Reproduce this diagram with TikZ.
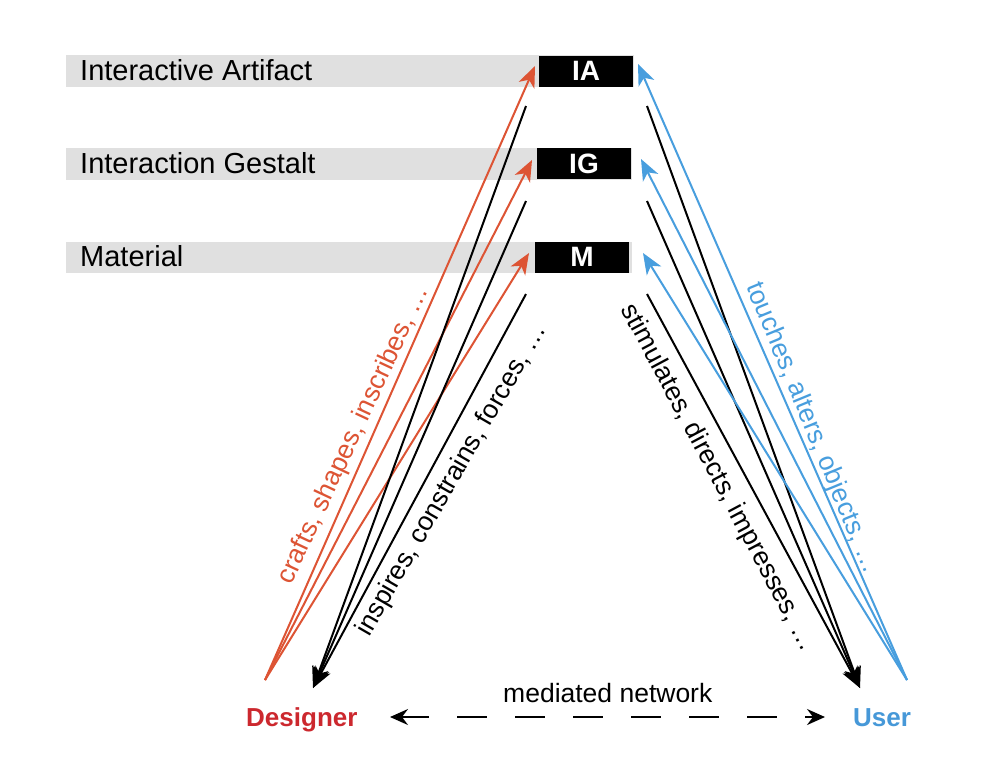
\documentclass[tikz,border=0pt]{standalone}
\usepackage{fontspec}
\setmainfont{Liberation Sans}
\usetikzlibrary{arrows.meta}
\definecolor{barGray}{RGB}{224,224,224}
\definecolor{arrowRed}{RGB}{221,84,52}
\definecolor{textRed}{RGB}{204,40,46}
\definecolor{arrowBlue}{RGB}{72,158,222}
\definecolor{textBlue}{RGB}{70,152,216}
\tikzset{
  bar/.style={fill=barGray, draw=none},
  boxnode/.style={fill=black, text=white, minimum width=94pt, minimum height=31pt, inner sep=0pt,
    font=\fontsize{28}{32}\selectfont\bfseries},
  barlabel/.style={anchor=base west, inner sep=0pt, font=\fontsize{29}{34}\selectfont},
  verb/.style={inner sep=0pt, font=\fontsize{26.5}{30}\selectfont},
  actor/.style={anchor=base west, inner sep=0pt, font=\fontsize{26}{30}\selectfont\bfseries},
  tipstyle/.style={-{Stealth[length=21pt,width=17pt,inset=6pt]}},
  redarrow/.style={tipstyle, draw=arrowRed, line width=2pt},
  bluearrow/.style={tipstyle, draw=arrowBlue, line width=2pt},
  blackarrow/.style={tipstyle, draw=black, line width=2pt},
  netarrow/.style={{Stealth[length=18pt,width=16pt,inset=6pt]}-{Stealth[length=18pt,width=16pt,inset=6pt]},
    line width=2pt, dash pattern=on 30pt off 28pt, dash phase=2pt}
}
\begin{document}
\begin{tikzpicture}[x=1pt,y=-1pt]
\useasboundingbox[fill=white] (0,0) rectangle (1000,769);
% gray bars
\fill[bar] (66,55) rectangle (634,87);
\fill[bar] (66,148) rectangle (632,180);
\fill[bar] (66,242) rectangle (632,273);
\node[barlabel] (lIA) at (80,80) {Interactive Artifact};
\node[barlabel] (lIG) at (80,173) {Interaction Gestalt};
\node[barlabel] (lM) at (80,266) {Material};
% black boxes
\node[boxnode] (IA) at (586,71) {IA};
\node[boxnode] (IG) at (584,163.5) {IG};
\node[boxnode] (M) at (582,257) {M};
% actors
\node[actor, text=textRed] (designer) at (246,726) {Designer};
\node[actor, text=textBlue] (user) at (853,726) {User};
% endpoint coordinates
\coordinate (dStart) at (265,680);
\coordinate (dTip) at (313,688);
\coordinate (uTip) at (860,688);
\coordinate (uStart) at (907,680);
\coordinate (rIA) at (535,66);
\coordinate (rIG) at (532,160);
\coordinate (rM) at (529,253);
\coordinate (bIA) at (638,64);
\coordinate (bIG) at (641,159);
\coordinate (bM) at (643,253);
\coordinate (klIA) at (526,106);
\coordinate (klIG) at (526,201);
\coordinate (klM) at (526,294);
\coordinate (krIA) at (647,106);
\coordinate (krIG) at (647,201);
\coordinate (krM) at (647,294);
\coordinate (netL) at (390,717);
\coordinate (netR) at (825,717);
% designer arrows
\draw[redarrow] (dStart) -- (rIA);
\draw[redarrow] (dStart) -- (rIG);
\draw[redarrow] (dStart) -- (rM);
\draw[blackarrow] (klIA) -- (dTip);
\draw[blackarrow] (klIG) -- (dTip);
\draw[blackarrow] (klM) -- (dTip);
% user arrows
\draw[blackarrow] (krIA) -- (uTip);
\draw[blackarrow] (krIG) -- (uTip);
\draw[blackarrow] (krM) -- (uTip);
\draw[bluearrow] (uStart) -- (bIA);
\draw[bluearrow] (uStart) -- (bIG);
\draw[bluearrow] (uStart) -- (bM);
% verb labels
\node[verb, text=arrowRed, rotate=65] (crafts) at (354,435) {crafts, shapes, inscribes, …};
\node[verb, rotate=60] (inspires) at (452,480) {inspires, constrains, forces, …};
\node[verb, rotate=-62] (stim) at (718,478) {stimulates, directs, impresses, …};
\node[verb, text=arrowBlue, rotate=-67.6] (touches) at (812,428) {touches, alters, objects, …};
% mediated network
\draw[netarrow] (netL) -- (netR);
\node[verb, anchor=base west] (net) at (503,702) {mediated network};
\end{tikzpicture}
\end{document}
